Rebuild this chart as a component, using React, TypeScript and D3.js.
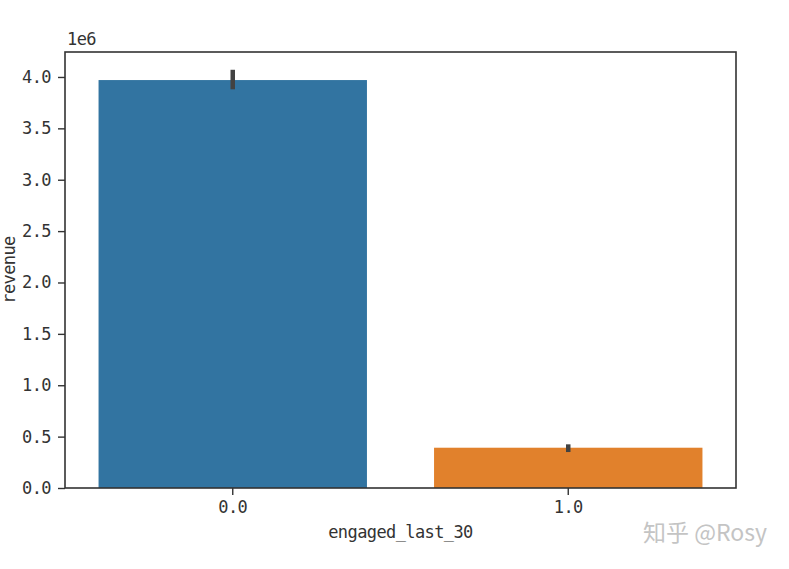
import React, { useEffect, useRef } from 'react';
import * as d3 from 'd3';

// values (revenue, 1e6 scale)
const categories = ['0.0', '1.0'];
const means = [3.97e6, 0.392e6];
const ciLow = [3.88e6, 0.35e6];
const ciHigh = [4.07e6, 0.425e6];
const barColors = ['#3274a1', '#e1812c'];
const yTicks = [0, 0.5e6, 1e6, 1.5e6, 2e6, 2.5e6, 3e6, 3.5e6, 4e6];

const App: React.FC = () => {
  const svgRef = useRef<SVGSVGElement>(null);

  useEffect(() => {
    if (!svgRef.current) return;
    const svg = d3.select(svgRef.current);
    svg.selectAll('*').remove();

    const margin = { top: 52, right: 53, bottom: 81, left: 65 };
    const width = 789;
    const height = 569;
    const font = '"DejaVu Sans Mono", monospace';

    const x = d3.scaleBand<string>()
      .domain(categories)
      .range([margin.left, width - margin.right])
      .paddingInner(0.2)
      .paddingOuter(0.1);
    const y = d3.scaleLinear()
      .domain([0, 4.243e6])
      .range([height - margin.bottom, margin.top]);

    // bars
    svg.append('g')
      .selectAll('rect')
      .data(categories)
      .join('rect')
      .attr('x', d => x(d)!)
      .attr('width', x.bandwidth())
      .attr('y', (_, i) => y(means[i]))
      .attr('height', (_, i) => y(0) - y(means[i]))
      .attr('fill', (_, i) => barColors[i]);

    // error bars
    svg.append('g')
      .selectAll('line')
      .data(categories)
      .join('line')
      .attr('x1', d => x(d)! + x.bandwidth() / 2)
      .attr('x2', d => x(d)! + x.bandwidth() / 2)
      .attr('y1', (_, i) => y(ciLow[i]))
      .attr('y2', (_, i) => y(ciHigh[i]))
      .attr('stroke', '#424242')
      .attr('stroke-width', 4.5);

    // axes
    const yAxis = svg.append('g')
      .attr('transform', `translate(${margin.left},0)`)
      .call(d3.axisLeft(y).tickValues(yTicks).tickFormat(d => d3.format('.1f')(+d / 1e6)).tickSize(7).tickPadding(7));
    const xAxis = svg.append('g')
      .attr('transform', `translate(0,${height - margin.bottom})`)
      .call(d3.axisBottom(x).tickSize(7).tickPadding(6));

    [yAxis, xAxis].forEach(g => {
      g.select('.domain').remove();
      g.selectAll('line').attr('stroke', '#333').attr('stroke-width', 1.4);
      g.selectAll('text')
        .attr('fill', '#333')
        .attr('font-family', font)
        .attr('font-size', 17)
        .attr('letter-spacing', -0.6);
    });

    // frame
    svg.append('rect')
      .attr('x', margin.left)
      .attr('y', margin.top)
      .attr('width', width - margin.left - margin.right)
      .attr('height', height - margin.top - margin.bottom)
      .attr('fill', 'none')
      .attr('stroke', '#333')
      .attr('stroke-width', 1.6);

    // labels
    svg.append('text')
      .attr('x', 67)
      .attr('y', 45)
      .attr('fill', '#333')
      .attr('font-family', font)
      .attr('font-size', 17)
      .attr('letter-spacing', -0.6)
      .text('1e6');

    svg.append('text')
      .attr('transform', `translate(15,${(margin.top + height - margin.bottom) / 2}) rotate(-90)`)
      .attr('text-anchor', 'middle')
      .attr('fill', '#333')
      .attr('font-family', font)
      .attr('font-size', 17)
      .attr('letter-spacing', -0.6)
      .text('revenue');

    svg.append('text')
      .attr('x', (margin.left + width - margin.right) / 2)
      .attr('y', 538)
      .attr('text-anchor', 'middle')
      .attr('fill', '#333')
      .attr('font-family', font)
      .attr('font-size', 17)
      .attr('letter-spacing', -0.6)
      .text('engaged_last_30');

    // watermark
    svg.append('text')
      .attr('x', 767)
      .attr('y', 541)
      .attr('text-anchor', 'end')
      .attr('fill', '#c4c4c4')
      .attr('font-family', '"Noto Sans CJK SC", sans-serif')
      .attr('font-size', 23)
      .text('知乎 @Rosy');
  }, []);

  return (
    <svg
      ref={svgRef}
      width={789}
      height={569}
      style={{ position: 'absolute', left: 0, top: 0, background: '#fff' }}
    />
  );
};

export default App;
